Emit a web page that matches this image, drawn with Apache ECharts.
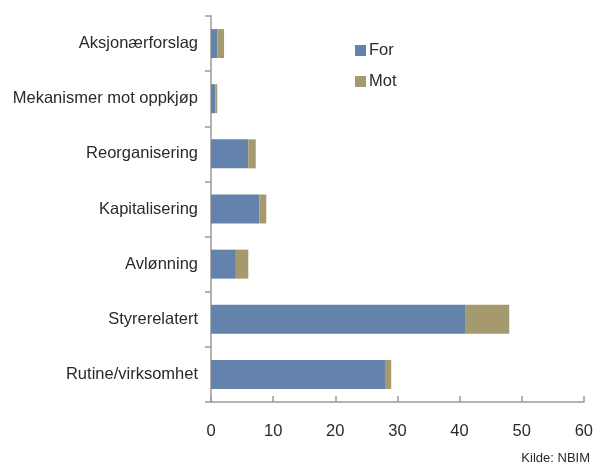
<!DOCTYPE html>
<html>
<head>
<meta charset="utf-8">
<script src="https://cdn.jsdelivr.net/npm/echarts@6/dist/echarts.min.js"></script>
<style>
  html, body { margin: 0; padding: 0; background: #fff; }
  #chart { width: 596px; height: 467px; }
</style>
</head>
<body>
<div id="chart"></div>
<script>
// Categories listed bottom-to-top (ECharts category axis order)
const categories = [
  'Rutine/virksomhet',
  'Styrerelatert',
  'Avlønning',
  'Kapitalisering',
  'Reorganisering',
  'Mekanismer mot oppkjøp',
  'Aksjonærforslag'
];
const forVotes = [28, 41, 4, 7.8, 6, 0.7, 1];
const motVotes = [1, 7, 2, 1.1, 1.2, 0.3, 1.1];
const xTicks = [0, 10, 20, 30, 40, 50, 60];

const fontFamily = '"Liberation Sans", Arial, sans-serif';
const axisGrey = '#9a9a9a';
const textColor = '#2a2a2a';

const chart = echarts.init(document.getElementById('chart'));
chart.setOption({
  animation: false,
  textStyle: { fontFamily: fontFamily },
  grid: { left: 211, right: 9, top: 16, bottom: 65, containLabel: false },
  legend: {
    orient: 'vertical',
    left: 350,
    top: 37,
    itemWidth: 11,
    itemHeight: 11,
    itemGap: 14,
    icon: 'rect',
    textStyle: { fontSize: 16.5, color: textColor, fontFamily: fontFamily, padding: [0, 0, 0, -2] },
    data: ['For', 'Mot']
  },
  xAxis: {
    type: 'value',
    min: xTicks[0],
    max: xTicks[xTicks.length - 1],
    interval: 10,
    axisLine: { show: true, lineStyle: { color: axisGrey, width: 1.5 } },
    axisTick: { show: true, inside: true, length: 6, lineStyle: { color: axisGrey, width: 1.5 } },
    splitLine: { show: false },
    axisLabel: { fontSize: 16.5, color: textColor, margin: 21, fontFamily: fontFamily }
  },
  yAxis: {
    type: 'category',
    data: categories,
    axisLine: { show: true, lineStyle: { color: axisGrey, width: 1.5 } },
    axisTick: { show: true, length: 6, lineStyle: { color: axisGrey, width: 1.5 } },
    axisLabel: { fontSize: 16.5, color: textColor, margin: 13, padding: [3, 0, 0, 0], fontFamily: fontFamily }
  },
  series: [
    {
      name: 'For',
      type: 'bar',
      stack: 'votes',
      data: forVotes,
      barWidth: 29,
      itemStyle: { color: '#6483AC' }
    },
    {
      name: 'Mot',
      type: 'bar',
      stack: 'votes',
      data: motVotes,
      barWidth: 29,
      itemStyle: { color: '#A59A6E' }
    }
  ],
  graphic: [
    {
      type: 'text',
      right: 6,
      top: 452,
      style: { text: 'Kilde: NBIM', fontSize: 13, fill: textColor, fontFamily: fontFamily }
    }
  ]
});
</script>
</body>
</html>
